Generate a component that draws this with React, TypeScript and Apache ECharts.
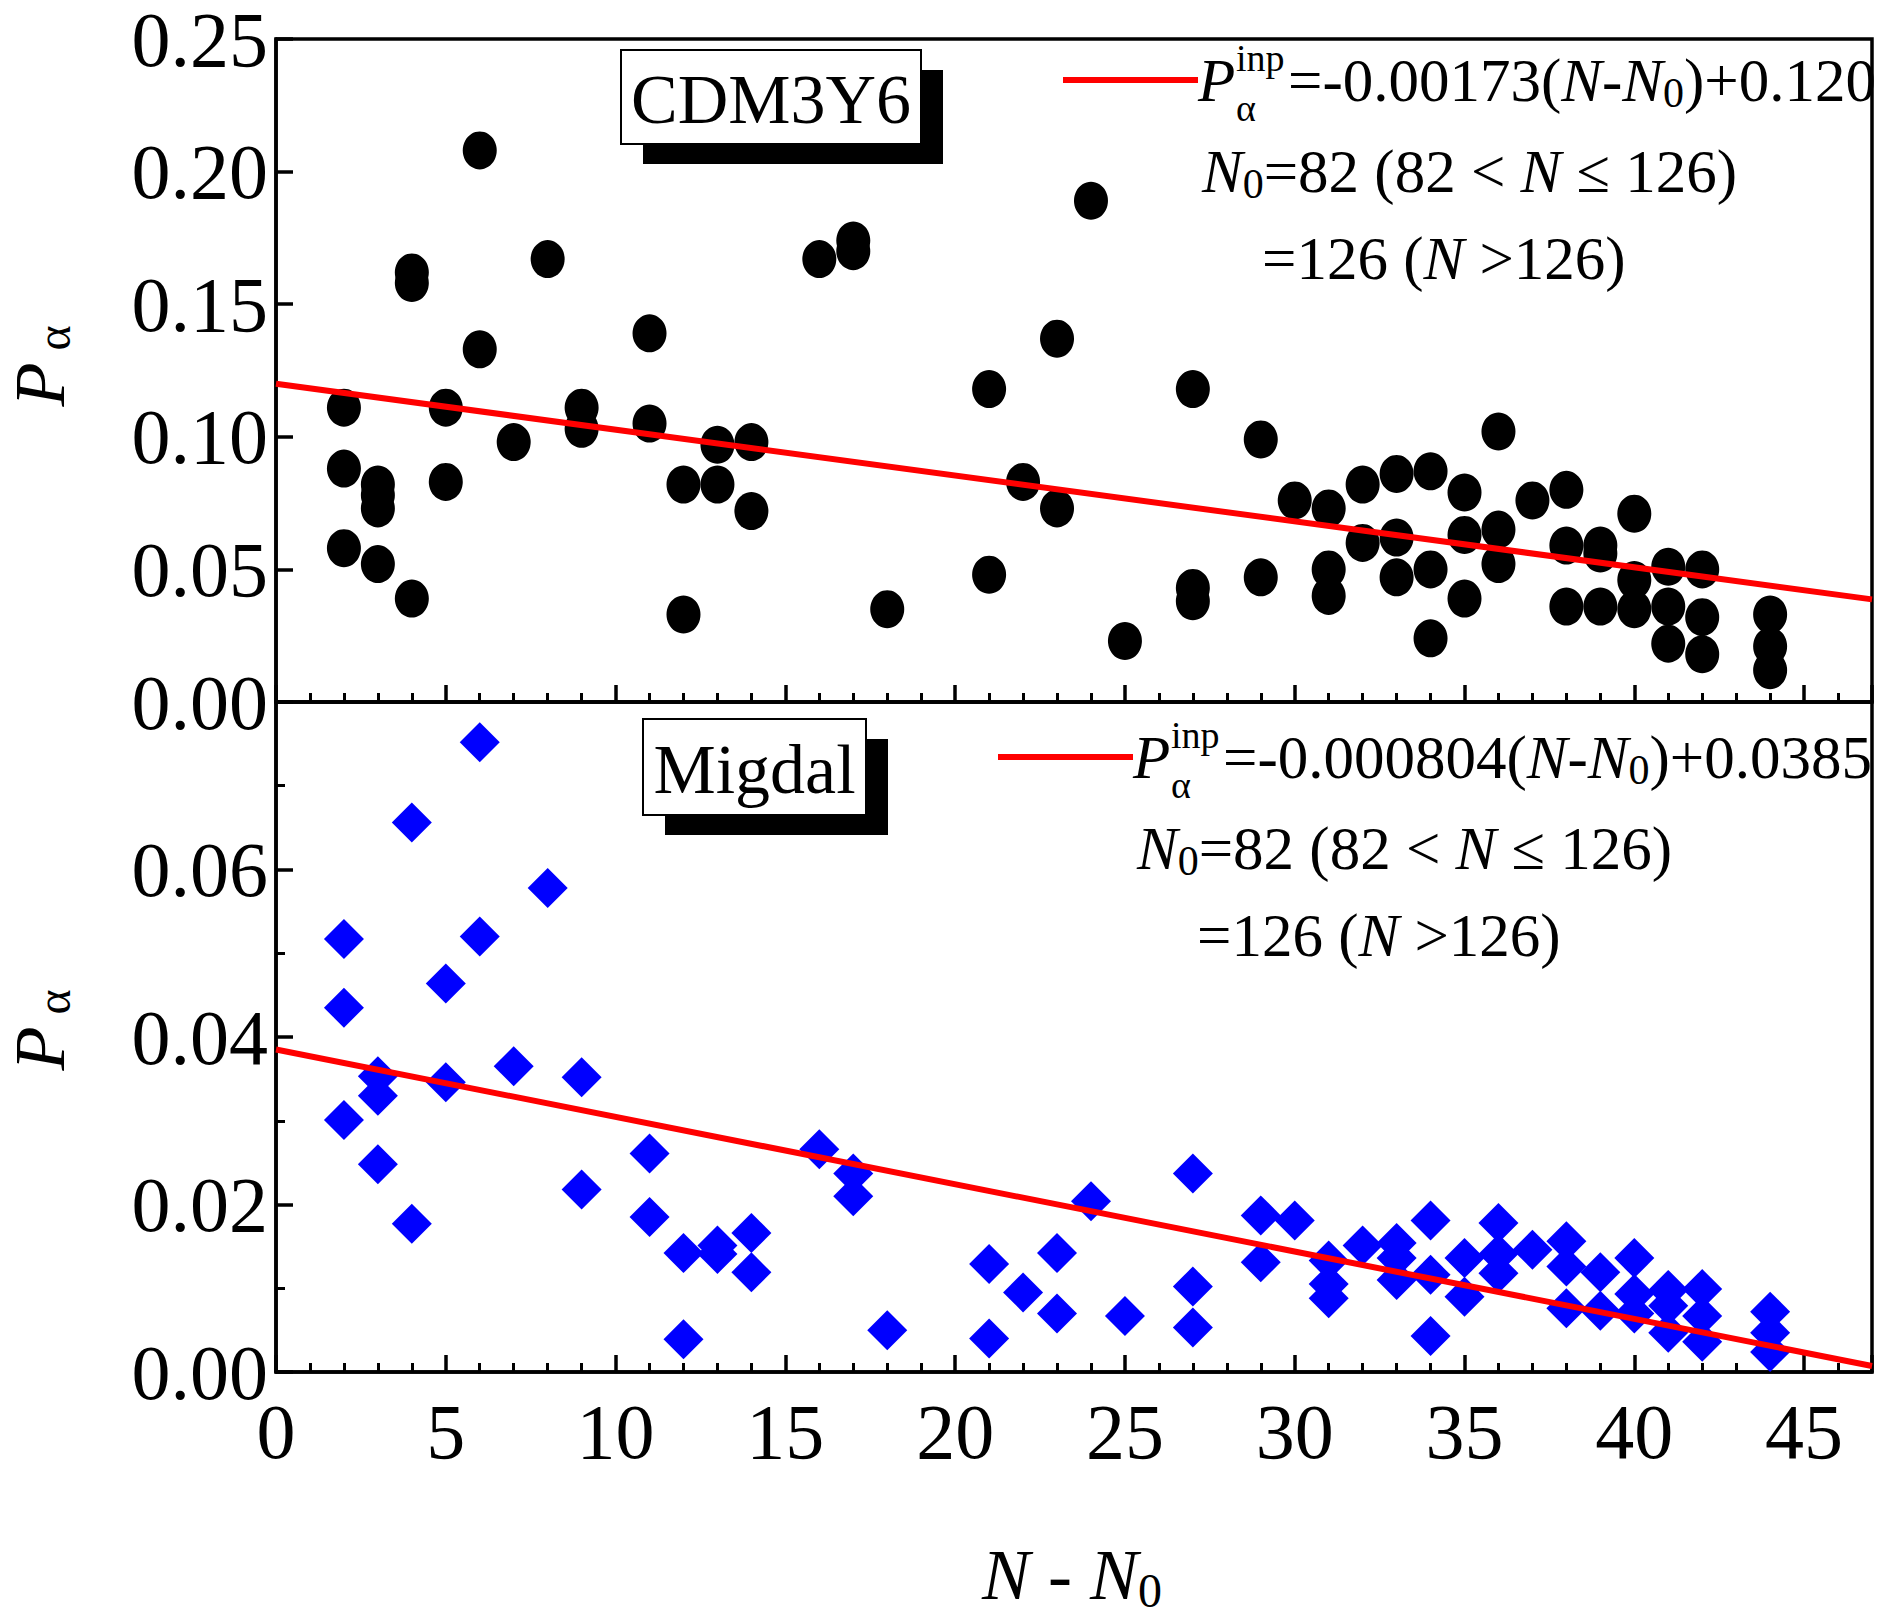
import React, { useEffect, useRef } from "react";
import * as echarts from "echarts";

const topX = [2,2,2,3,3,3,3,4,4,4,5,5,6,6,7,8,9,9,11,11,12,12,13,13,14,14,16,17,17,18,21,21,22,23,23,24,25,27,27,27,29,29,30,31,31,31,32,32,33,33,33,34,34,34,35,35,35,36,36,36,37,38,38,38,39,39,39,40,40,40,41,41,41,42,42,42,44,44,44];
const topY = [0.111,0.088,0.058,0.082,0.078,0.073,0.052,0.162,0.158,0.039,0.111,0.083,0.208,0.133,0.098,0.167,0.111,0.103,0.139,0.105,0.082,0.033,0.097,0.082,0.098,0.072,0.167,0.174,0.170,0.035,0.118,0.048,0.083,0.137,0.073,0.189,0.023,0.118,0.043,0.038,0.099,0.047,0.076,0.073,0.050,0.040,0.082,0.060,0.086,0.062,0.047,0.087,0.050,0.024,0.079,0.063,0.039,0.102,0.065,0.052,0.076,0.080,0.059,0.036,0.059,0.056,0.036,0.071,0.046,0.035,0.051,0.036,0.022,0.050,0.032,0.018,0.033,0.021,0.012];
const botX = [2,2,2,3,3,3,4,4,5,5,6,6,7,8,9,9,11,11,12,12,13,13,14,14,16,17,17,18,21,21,22,23,23,24,25,27,27,27,29,29,30,31,31,31,32,33,33,33,34,34,34,35,35,36,36,36,37,38,38,38,39,39,40,40,40,41,41,41,42,42,42,44,44,44];
const botY = [0.0517,0.0435,0.0301,0.0353,0.033,0.0248,0.0656,0.0177,0.0464,0.0346,0.0752,0.052,0.0365,0.0578,0.0352,0.0218,0.0261,0.0185,0.0142,0.0039,0.0151,0.0141,0.0166,0.0119,0.0266,0.0237,0.021,0.005,0.0129,0.004,0.0095,0.0142,0.007,0.0204,0.0067,0.0237,0.0102,0.0053,0.0187,0.0131,0.0181,0.0133,0.0105,0.0088,0.0151,0.0154,0.0136,0.011,0.0181,0.0116,0.0043,0.0136,0.009,0.0178,0.0141,0.0118,0.0146,0.0156,0.0126,0.0076,0.0119,0.0073,0.0136,0.0093,0.007,0.0098,0.0079,0.0047,0.0099,0.0067,0.0036,0.0072,0.0047,0.0024];
const topFit = { slope: -0.00173, icpt: 0.120 };
const botFit = { slope: -0.000804, icpt: 0.0385 };
const xTicks = [0, 5, 10, 15, 20, 25, 30, 35, 40, 45];
const xMax = 47;

const FONT = "Liberation Serif";

export default function App() {
  const ref = useRef<HTMLDivElement>(null);
  useEffect(() => {
    const chart = echarts.init(ref.current!, undefined, { renderer: "svg" });
    const axisLine = { lineStyle: { color: "#000", width: 3.5 } };
    const lbl = { color: "#000", fontFamily: FONT, fontSize: 78 };
    const xAxisBase = (gi: number, showLabel: boolean) => ({
      type: "value", gridIndex: gi, min: 0, max: xMax, interval: 5,
      axisLine, splitLine: { show: false },
      axisTick: { inside: true, length: 17, lineStyle: { width: 3.5, color: "#000" } },
      minorTick: { show: true, splitNumber: 5, length: 9, lineStyle: { width: 3, color: "#000" } },
      axisLabel: { ...lbl, show: showLabel, margin: 20, showMaxLabel: false,
        formatter: (v: number) => (xTicks.includes(v) ? String(v) : "") },
    });
    const rich = {
      n: { fontFamily: FONT, fontSize: 61, fontStyle: "italic", color: "#000" },
      s: { fontFamily: FONT, fontSize: 42, color: "#000", padding: [26, 0, 0, 0] },
      t: { fontFamily: FONT, fontSize: 61, color: "#000" },
    };
    const txt = (x: number, y: number, text: string) => ({
      type: "text", x, y, style: { text, rich, verticalAlign: "middle", font: `61px '${FONT}'`, fill: "#000" },
    });
    const legend = (lx0: number, lx1: number, y: number, eq: string) => [
      { type: "line", shape: { x1: lx0, y1: y, x2: lx1, y2: y }, style: { stroke: "#f00", lineWidth: 6 } },
      { type: "text", x: lx1, y, style: { text: "P", font: `italic 61px '${FONT}'`, fill: "#000", verticalAlign: "middle" } },
      { type: "text", x: lx1 + 38, y: y - 22, style: { text: "inp", font: `38px '${FONT}'`, fill: "#000", verticalAlign: "middle" } },
      { type: "text", x: lx1 + 38, y: y + 28, style: { text: "α", font: `38px '${FONT}'`, fill: "#000", verticalAlign: "middle" } },
      txt(lx1 + 90, y, eq),
      txt(lx1 + 4, y + 91, "{n|N}{s|0}{t|=82 (82 < }{n|N}{t| ≤ 126)}"),
      txt(lx1 + 64, y + 178, "{t|=126 (}{n|N}{t| >126)}"),
    ];
    const box = (x: number, y: number, w: number, h: number, text: string) => [
      { type: "rect", shape: { x: x + 22, y: y + 20, width: w, height: h }, style: { fill: "#000" } },
      { type: "rect", shape: { x, y, width: w, height: h }, style: { fill: "#fff", stroke: "#000", lineWidth: 2 } },
      { type: "text", x: x + w / 2, y: y + h / 2 + 2, style: { text, font: `70px '${FONT}'`, fill: "#000", align: "center", verticalAlign: "middle" } },
    ];
    const yName = (x: number, y: number) => ({
      type: "text", x, y, rotation: Math.PI / 2,
      style: { text: "{n|P}{s| α}", rich: { n: { fontFamily: FONT, fontSize: 72, fontStyle: "italic", color: "#000" }, s: { fontFamily: FONT, fontSize: 48, color: "#000", padding: [26, 0, 0, 0] } }, align: "center", verticalAlign: "middle" },
    });
    chart.setOption({
      animation: false,
      backgroundColor: "#fff",
      grid: [
        { left: 276, top: 34, width: 1596, height: 668, show: true, borderColor: "#000", borderWidth: 3.5 },
        { left: 276, top: 702, width: 1596, height: 670, show: true, borderColor: "#000", borderWidth: 3.5 },
      ],
      xAxis: [xAxisBase(0, false), xAxisBase(1, true)],
      yAxis: [
        { type: "value", gridIndex: 0, min: 0, max: 0.25, interval: 0.05, axisLine: { show: true, ...axisLine }, splitLine: { show: false },
          axisTick: { inside: true, length: 17, lineStyle: { width: 3.5, color: "#000" } },
          axisLabel: { ...lbl, margin: 8, formatter: (v: number) => v.toFixed(2) } },
        { type: "value", gridIndex: 1, min: 0, max: 0.08, interval: 0.02, axisLine: { show: true, ...axisLine }, splitLine: { show: false },
          axisTick: { inside: true, length: 17, lineStyle: { width: 3.5, color: "#000" } },
          minorTick: { show: true, splitNumber: 2, length: 9, lineStyle: { width: 3, color: "#000" } },
          axisLabel: { ...lbl, margin: 8, showMaxLabel: false, formatter: (v: number) => (v >= 0.079 ? "" : v.toFixed(2)) } },
      ],
      series: [
        { type: "scatter", xAxisIndex: 0, yAxisIndex: 0, symbol: "circle", symbolSize: [34, 38], itemStyle: { color: "#000", opacity: 1 },
          data: topX.map((x, i) => [x, topY[i]]), z: 3 },
        { type: "line", xAxisIndex: 0, yAxisIndex: 0, symbol: "none", lineStyle: { color: "#f00", width: 6 },
          data: [[0, topFit.icpt], [xMax, topFit.icpt + topFit.slope * xMax]], z: 4 },
        { type: "scatter", xAxisIndex: 1, yAxisIndex: 1, symbol: "diamond", symbolSize: [40, 40], itemStyle: { color: "#0000ff", opacity: 1 },
          data: botX.map((x, i) => [x, botY[i]]), z: 3 },
        { type: "line", xAxisIndex: 1, yAxisIndex: 1, symbol: "none", lineStyle: { color: "#f00", width: 6 },
          data: [[0, botFit.icpt], [xMax, botFit.icpt + botFit.slope * xMax]], z: 4 },
      ],
      graphic: [
        ...box(621, 50, 300, 94, "CDM3Y6"),
        ...box(643, 719, 223, 96, "Migdal"),
        ...legend(1063, 1198, 80, "{t|=-0.00173(}{n|N}{t|-}{n|N}{s|0}{t|)+0.120}"),
        ...legend(998, 1133, 757, "{t|=-0.000804(}{n|N}{t|-}{n|N}{s|0}{t|)+0.0385}"),
        yName(40, 366),
        yName(40, 1030),
        { type: "text", x: 1072, y: 1575, style: { text: "{n|N}{t| - }{n|N}{s|0}", rich: { n: { fontFamily: FONT, fontSize: 72, fontStyle: "italic", color: "#000" }, t: { fontFamily: FONT, fontSize: 72, color: "#000" }, s: { fontFamily: FONT, fontSize: 48, color: "#000", padding: [30, 0, 0, 0] } }, align: "center", verticalAlign: "middle" } },
      ],
    });
    return () => chart.dispose();
  }, []);
  return <div ref={ref} style={{ position: "absolute", left: 0, top: 0, width: 1879, height: 1622 }} />;
}
